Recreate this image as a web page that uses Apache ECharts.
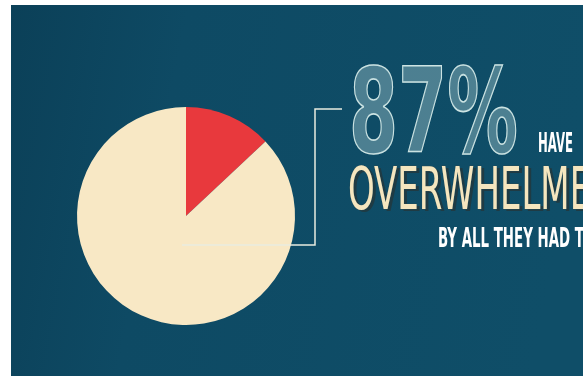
<!DOCTYPE html>
<html><head><meta charset="utf-8">
<script src="https://cdn.jsdelivr.net/npm/echarts@6/dist/echarts.min.js"></script>
<style>html,body{margin:0;padding:0;background:#fff}#c{width:583px;height:377px}</style>
</head><body><div id="c"></div>
<script>
// Data
var sliceNames = ['Not overwhelmed', 'Overwhelmed'];
var sliceValues = [13, 87];
var sliceColors = ['#e8393d', '#f8e8c5'];
var headline = '87%';
var line1 = 'HAVE';
var line2 = 'OVERWHELMED';
var line3 = 'BY ALL THEY HAD TO DO';

var cx = 186, cy = 216, R = 109;
var chart = echarts.init(document.getElementById('c'), null, {renderer: 'canvas'});
var cond = '"DejaVu Sans Condensed", "Liberation Sans Narrow", "DejaVu Sans", sans-serif';

chart.setOption({
  backgroundColor: '#ffffff',
  animation: false,
  graphic: [
    {type: 'rect', z: -10, shape: {x: 11, y: 5, width: 572, height: 371},
     style: {fill: {type: 'linear', x: 0, y: 0, x2: 1, y2: 0.3, colorStops: [
       {offset: 0, color: '#0b4058'}, {offset: 0.3, color: '#0e4a64'}, {offset: 1, color: '#0f4e68'}]}}},
    {type: 'polyline', z: 20, shape: {points: [[cx - 4, cy + 29], [315, cy + 29], [315, 109], [342, 109]]},
     style: {stroke: '#e9ecdf', lineWidth: 1.5, fill: null}},
    {type: 'text', z: 20, x: 349, y: 63, scaleX: 0.67, style: {text: headline, x: 0, y: 0,
      font: 'bold 117px ' + cond, fill: 'rgba(170,205,210,0.4)', stroke: '#d3e8e6', lineWidth: 1.6,
      verticalAlign: 'top'}},
    {type: 'text', z: 20, x: 538, y: 132, scaleX: 0.5, style: {text: line1, x: 0, y: 0,
      font: 'bold 26px ' + cond, fill: '#ffffff', verticalAlign: 'top'}},
    {type: 'text', z: 19, x: 351, y: 166, scaleX: 0.64, style: {text: line2, x: 0, y: 0,
      font: '59px ' + cond, fill: '#1f3b44', verticalAlign: 'top'}},
    {type: 'text', z: 20, x: 348, y: 164, scaleX: 0.64, style: {text: line2, x: 0, y: 0,
      font: '59px ' + cond, fill: '#f5e6bf', stroke: '#2a4a52', lineWidth: 0.8, verticalAlign: 'top'}},
    {type: 'text', z: 20, x: 438, y: 226, scaleX: 0.55, style: {text: line3, x: 0, y: 0,
      font: 'bold 27px ' + cond, fill: '#ffffff', verticalAlign: 'top'}}
  ],
  series: [{
    type: 'pie', center: [cx, cy], radius: R, startAngle: 90, clockwise: true,
    label: {show: false}, labelLine: {show: false}, silent: true,
    itemStyle: {borderWidth: 0},
    data: sliceNames.map(function (n, i) { return {name: n, value: sliceValues[i], itemStyle: {color: sliceColors[i]}}; })
  }]
});
</script></body></html>
